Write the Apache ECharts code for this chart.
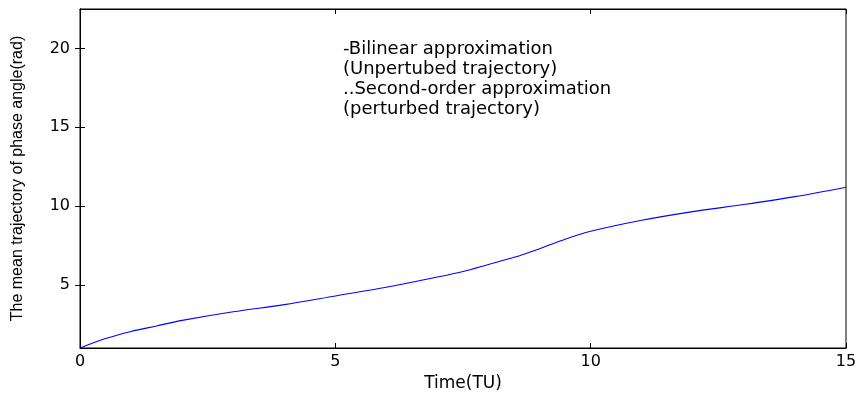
<!DOCTYPE html>
<html>
<head>
<meta charset="utf-8">
<script src="https://cdn.jsdelivr.net/npm/echarts@6/dist/echarts.min.js"></script>
<style>
  html, body { margin: 0; padding: 0; background: #fff; }
  #chart { width: 859px; height: 393px; }
</style>
</head>
<body>
<div id="chart"></div>
<script>
// time (TU) and mean phase angle (rad)
const timeTU = [0, 0.5, 1, 1.5, 2, 3, 4, 5, 6, 7, 7.5, 8, 8.5, 9, 9.5, 10, 11, 12, 13, 14, 15]
const phaseAngle = [1.0, 1.6, 2.05, 2.4, 2.75, 3.3, 3.75, 4.3, 4.85, 5.5, 5.85, 6.3, 6.75, 7.3, 7.9, 8.4, 9.1, 9.65, 10.1, 10.6, 11.2]
const yTicks = [5, 10, 15, 20]
const legendLines = [
  '-Bilinear approximation',
  '(Unpertubed trajectory)',
  '..Second-order approximation',
  '(perturbed trajectory)'
]

const wide = 'DejaVu Sans, Verdana, sans-serif'
const narrow = 'Liberation Sans, Arial, sans-serif'
const chart = echarts.init(document.getElementById('chart'))

const axisLine = { show: true, lineStyle: { color: '#000', width: 1 } }
const tick = { show: true, inside: true, length: 5, lineStyle: { color: '#000' } }

chart.setOption({
  animation: false,
  grid: {
    left: 80, right: 13, top: 9, bottom: 45,
    outerBoundsMode: 'none',
    show: true, borderColor: '#000', borderWidth: 1
  },
  xAxis: [
    {
      type: 'value', min: 0, max: 15, interval: 5,
      name: 'Time(TU)', nameLocation: 'middle', nameGap: 27,
      nameTextStyle: { color: '#000', fontSize: 17, fontFamily: wide },
      axisLine, axisTick: tick,
      axisLabel: { color: '#000', fontSize: 16, fontFamily: wide, margin: 6 },
      splitLine: { show: false }
    },
    {
      type: 'value', min: 0, max: 15, interval: 5, position: 'top',
      axisLine, axisTick: tick, axisLabel: { show: false }, splitLine: { show: false }
    }
  ],
  yAxis: [
    {
      type: 'value', min: 1, max: 22.5,
      name: 'The mean trajectory of phase angle(rad)', nameLocation: 'middle', nameGap: 54,
      nameTextStyle: { color: '#000', fontSize: 16, fontFamily: narrow },
      axisLine,
      axisTick: Object.assign({}, tick, { customValues: yTicks }),
      axisLabel: { color: '#000', fontSize: 16, fontFamily: wide, margin: 10, customValues: yTicks },
      splitLine: { show: false }
    },
    {
      type: 'value', min: 1, max: 22.5, position: 'right',
      axisLine,
      axisTick: Object.assign({}, tick, { customValues: yTicks }),
      axisLabel: { show: false }, splitLine: { show: false }
    }
  ],
  graphic: [{
    type: 'text', left: 343, top: 39,
    style: {
      text: legendLines.join('\n'),
      fill: '#000', font: '18px ' + wide, lineHeight: 20
    }
  }],
  series: [{
    type: 'line',
    data: timeTU.map((t, i) => [t, phaseAngle[i]]),
    smooth: 0.3, showSymbol: false,
    lineStyle: { color: '#0000ff', width: 1.1 }
  }]
})
</script>
</body>
</html>
